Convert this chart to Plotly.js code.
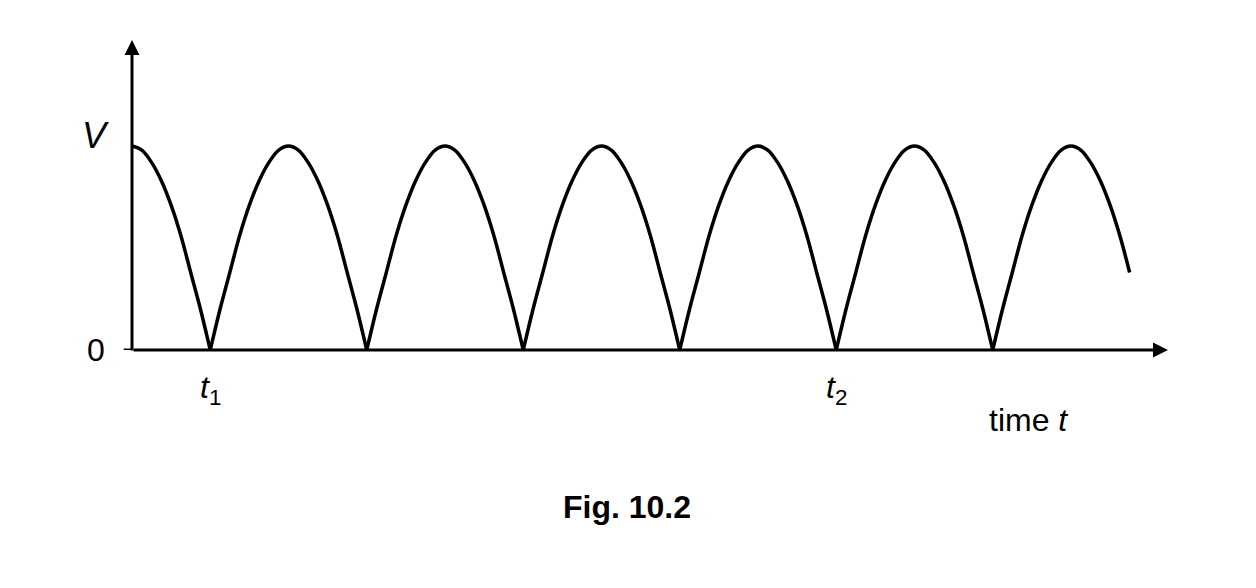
<!DOCTYPE html>
<html>
<head>
<meta charset="utf-8">
<script src="https://cdn.plot.ly/plotly-3.0.1.min.js"></script>
<style>body{margin:0;background:#fff}#plot{width:1256px;height:588px}</style>
</head>
<body>
<div id="plot"></div>
<script>
// values: time in half-periods, V as fraction of peak
var archOffsets = [0, 0.0625, 0.125, 0.1875, 0.25, 0.3125, 0.375, 0.4375, 0.5, 0.5625, 0.625, 0.6875, 0.75, 0.8125, 0.875, 0.9375, 1];
var archHeights = [0, 0.2, 0.38, 0.56, 0.71, 0.83, 0.92, 0.98, 1, 0.98, 0.92, 0.83, 0.71, 0.56, 0.38, 0.2, 0];
var archStarts = [0.5, 1.5, 2.5, 3.5, 4.5];
var firstX = [0, 0.0625, 0.125, 0.1875, 0.25, 0.3125, 0.375, 0.4375, 0.5];
var firstY = [1, 0.98, 0.92, 0.83, 0.71, 0.56, 0.38, 0.2, 0];
var lastX = [5.5, 5.5625, 5.625, 5.6875, 5.75, 5.8125, 5.875, 5.9375, 6, 6.0625, 6.125, 6.1875, 6.25, 6.3125, 6.375];
var lastY = [0, 0.2, 0.38, 0.56, 0.71, 0.83, 0.92, 0.98, 1, 0.98, 0.92, 0.83, 0.71, 0.56, 0.38];

var xs = firstX.concat([null]), ys = firstY.concat([null]);
archStarts.forEach(function (s) {
    archOffsets.forEach(function (o, i) { xs.push(s + o); ys.push(archHeights[i]); });
    xs.push(null); ys.push(null);
});
xs = xs.concat(lastX); ys = ys.concat(lastY);

var font = {family: "Liberation Sans, Arial", size: 32, color: "#000"};
var trace = {x: xs, y: ys, mode: "lines", line: {shape: "spline", color: "#000", width: 3.5},
    connectgaps: false, hoverinfo: "skip"};

var layout = {
    width: 1256, height: 588, showlegend: false,
    paper_bgcolor: "#fff", plot_bgcolor: "#fff",
    margin: {l: 132, r: 88, t: 40, b: 238},
    xaxis: {range: [0, 6.62], visible: false},
    yaxis: {range: [0, 1.52], visible: false},
    shapes: [
        {type: "line", xref: "paper", yref: "y", x0: -0.008, x1: 0, y0: 0, y1: 0, line: {color: "#000", width: 3}}
    ],
    annotations: [
        {xref: "paper", yref: "y", x: 1, y: 0, ax: -1036, ay: 0, text: "", showarrow: true, arrowhead: 2, arrowsize: 1, arrowwidth: 3, arrowcolor: "#000"},
        {xref: "x", yref: "paper", x: 0, y: 1, ax: 0, ay: 312, text: "", showarrow: true, arrowhead: 2, arrowsize: 1, arrowwidth: 3, arrowcolor: "#000"},
        {xref: "paper", yref: "y", x: -0.045, y: 0, text: "0", showarrow: false, font: font},
        {xref: "paper", yref: "y", x: -0.05, y: 1.05, text: "<i>V</i>", showarrow: false, font: {family: font.family, size: 36, color: "#000"}},
        {xref: "x", yref: "paper", x: 0.5, y: -0.2, text: "<i>t</i><sub>1</sub>", showarrow: false, font: font},
        {xref: "x", yref: "paper", x: 4.5, y: -0.2, text: "<i>t</i><sub>2</sub>", showarrow: false, font: font},
        {xref: "x", yref: "paper", x: 5.73, y: -0.29, text: "time <i>t</i>", showarrow: false, font: font},
        {xref: "paper", yref: "paper", x: 0.478, y: -0.57, text: "<b>Fig. 10.2</b>", showarrow: false, font: font}
    ]
};
Plotly.newPlot("plot", [trace], layout, {staticPlot: true});
</script>
</body>
</html>
